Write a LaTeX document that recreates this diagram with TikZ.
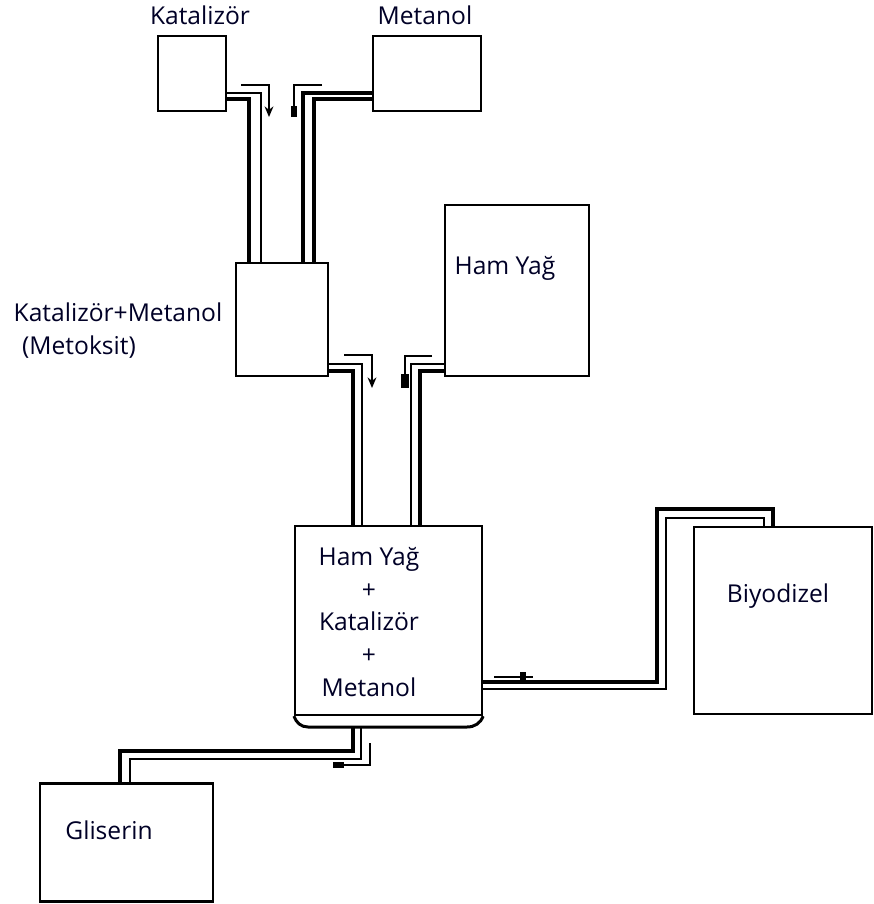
\documentclass[tikz,border=0pt]{standalone}
\usepackage{fontspec}
\setmainfont{Open Sans}
\usetikzlibrary{positioning,arrows.meta}

\tikzset{
  tank/.style={draw, line width=1.6pt, inner sep=0pt},
  lbl/.style={font=\fontsize{14}{16}\selectfont, text=black!85!blue},
  pipeout/.style={line width=1.8pt},
  pipein/.style={line width=1.1pt},
  valve/.style={line width=1.4pt}
}

\begin{document}
\begin{tikzpicture}[x=0.02cm, y=-0.02cm]
\useasboundingbox (0,0) rectangle (874,904);

% tanks
\node[tank, minimum width=1.36cm, minimum height=1.5cm] (kat) at (192,73.5) {};
\node[tank, minimum width=2.16cm, minimum height=1.5cm] (met) at (427,73.5) {};
\node[tank, minimum width=1.84cm, minimum height=2.26cm] (mix) at (282,319.5) {};
\node[tank, line width=1.4pt, minimum width=2.88cm, minimum height=3.42cm] (ham) at (517,290.5) {};
\node[tank, line width=1.3pt, minimum width=3.74cm, minimum height=3.78cm] (reac) at (388.5,620.5) {};
\node[tank, line width=1.0pt, minimum width=3.56cm, minimum height=3.74cm] (bio) at (783,620.5) {};
\node[tank, line width=1.4pt, minimum width=3.46cm, minimum height=2.36cm] (gli) at (126.5,842.5) {};

% reactor bottom lip
\coordinate (lip) at (388,727);
\draw[line width=1.7pt] (reac.south west) to[out=-70,in=180] (lip -| 308,0) -- (lip -| 467,0) to[out=0,in=-110] (reac.south east);

% labels
\node[lbl] (katlbl) at (200,15) {Katalizör};
\node[lbl] (metlbl) at (425,15) {Metanol};
\node[lbl] (mixlbl) at (118,312) {Katalizör+Metanol};
\node[lbl] (mixsub) at (79,347) {(Metoksit)};
\node[lbl] (hamlbl) at (505,268) {Ham Yağ};
\node[lbl, align=center, font=\fontsize{14}{18.6}\selectfont] (reaclbl) at (369,622) {Ham Yağ\\+\\Katalizör\\+\\Metanol};
\node[lbl] (biolbl) at (778,596) {Biyodizel};
\node[lbl] (glilbl) at (109,830) {Gliserin};

% pipes
\draw[pipein] (kat.east |- 0,93) -| (mix.north -| 261,0);
\draw[pipeout] (kat.east |- 0,99) -| (mix.north -| 249,0);
\draw[pipeout] (met.west |- 0,93) -| (mix.north -| 303,0);
\draw[pipeout] (met.west |- 0,99) -| (mix.north -| 314,0);

\draw[pipein] (mix.east |- 0,364) -| (reac.north -| 362,0);
\draw[pipeout] (mix.east |- 0,371) -| (reac.north -| 353,0);
\draw[pipein] (ham.west |- 0,364) -| (reac.north -| 411,0);
\draw[pipeout] (ham.west |- 0,371) -| (reac.north -| 420,0);

\draw[pipeout] (reac.east |- 0,682) -| (657,509) -| (bio.north -| 773,0);
\draw[pipein] (reac.east |- 0,689) -| (666,518) -| (bio.north -| 764,0);

\draw[pipeout] (lip -| 353,0) |- (120,751) -- (gli.north -| 120,0);
\draw[pipein] (lip -| 361,0) |- (130,759) -- (gli.north -| 130,0);

% valves
\draw[valve, -{Stealth[length=6pt,width=5pt]}] (241,85) -| (269,117);
\draw[valve, -{Rectangle[length=6pt,width=3.5pt]}] (322,85) -| (294,117);
\draw[valve, -{Stealth[length=6pt,width=5pt]}] (344,355) -| (372,388);
\draw[valve, -{Rectangle[length=8pt,width=4pt]}] (432,356) -| (405,388);
\draw[valve] (494,677) -- (533,677);
\fill (520,672) rectangle (526,682);
\draw[valve, -{Rectangle[length=6pt,width=3.5pt]}] (370,743) |- (333,765);
\end{tikzpicture}
\end{document}
